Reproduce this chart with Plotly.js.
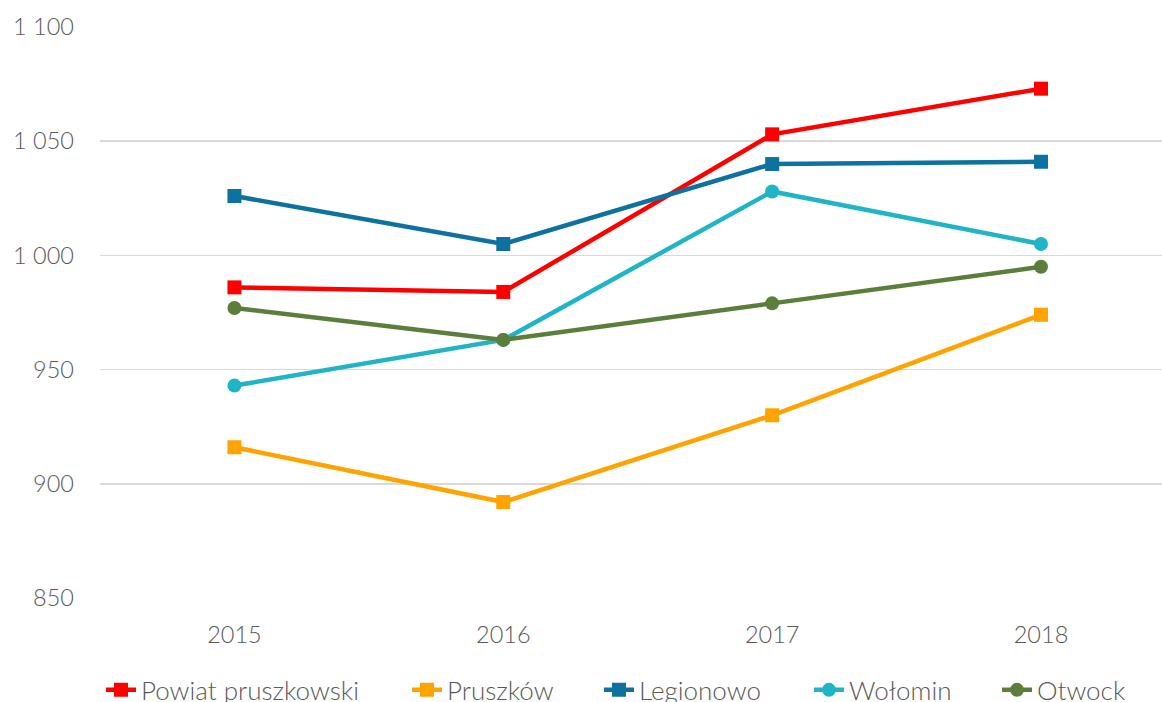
<!DOCTYPE html>
<html>
<head>
<meta charset="utf-8">
<script src="https://cdn.plot.ly/plotly-3.0.1.min.js"></script>
<style>html,body{margin:0;padding:0;background:#fff;overflow:hidden}</style>
</head>
<body>
<div id="chart" style="width:1162px;height:702px"></div>
<script>
const years = ['2015', '2016', '2017', '2018'];
const seriesNames = ['Powiat pruszkowski', 'Pruszków', 'Legionowo', 'Wołomin', 'Otwock'];
const powiatPruszkowski = [986, 984, 1053, 1073];
const pruszkow = [916, 892, 930, 974];
const legionowo = [1026, 1005, 1040, 1041];
const wolomin = [943, 963, 1028, 1005];
const otwock = [977, 963, 979, 995];
const yTicks = [850, 900, 950, 1000, 1050, 1100];

const values = [powiatPruszkowski, pruszkow, legionowo, wolomin, otwock];
const colors = ['#FF0000', '#FFA300', '#0E72A0', '#1FB4C6', '#5B7E3A'];
const symbols = ['square', 'square', 'square', 'circle', 'circle'];
// left pixel where each legend text should start (page x)
const legendTextX = [142, 448, 640, 850, 1038];
const legendIds = ['legend', 'legend2', 'legend3', 'legend4', 'legend5'];

const ML = 100, PW = 1062;

const traces = values.map((v, i) => ({
  type: 'scatter',
  mode: 'lines+markers',
  name: seriesNames[i],
  legend: legendIds[i],
  x: years,
  y: v,
  line: {color: colors[i], width: 4.5},
  marker: {color: colors[i], symbol: symbols[i], size: 14}
}));

const FONT = 'Lato, "Open Sans", sans-serif';

const layout = {
  width: 1162, height: 702,
  margin: {l: ML, r: 0, t: 27, b: 104, autoexpand: false},
  paper_bgcolor: '#fff', plot_bgcolor: '#fff',
  separators: ', ',
  font: {family: FONT, color: '#595959', size: 23, weight: 300},
  xaxis: {
    type: 'category', range: [-0.5, 3.45],
    showgrid: false, zeroline: false, showline: false, ticks: '',
    ticklabelstandoff: 20,
    tickfont: {family: FONT, size: 23.5, color: '#595959', weight: 300}
  },
  yaxis: {
    range: [850, 1100], tickvals: yTicks, tickformat: ',d',
    showgrid: true, gridcolor: '#D9D9D9', gridwidth: 1.5,
    zeroline: false, showline: false, ticks: '',
    ticklabelstandoff: 25,
    tickfont: {family: FONT, size: 23.5, color: '#595959', weight: 300}
  },
  showlegend: true
};

legendIds.forEach((id, i) => {
  layout[id] = {
    orientation: 'h',
    x: (legendTextX[i] - 41 - ML) / PW, xanchor: 'left',
    y: -0.161, yanchor: 'middle',
    font: {family: FONT, size: 26, color: '#595959', weight: 300},
    bgcolor: 'rgba(0,0,0,0)', borderwidth: 0
  };
});

Plotly.newPlot('chart', traces, layout, {displayModeBar: false, staticPlot: true});
</script>
</body>
</html>
